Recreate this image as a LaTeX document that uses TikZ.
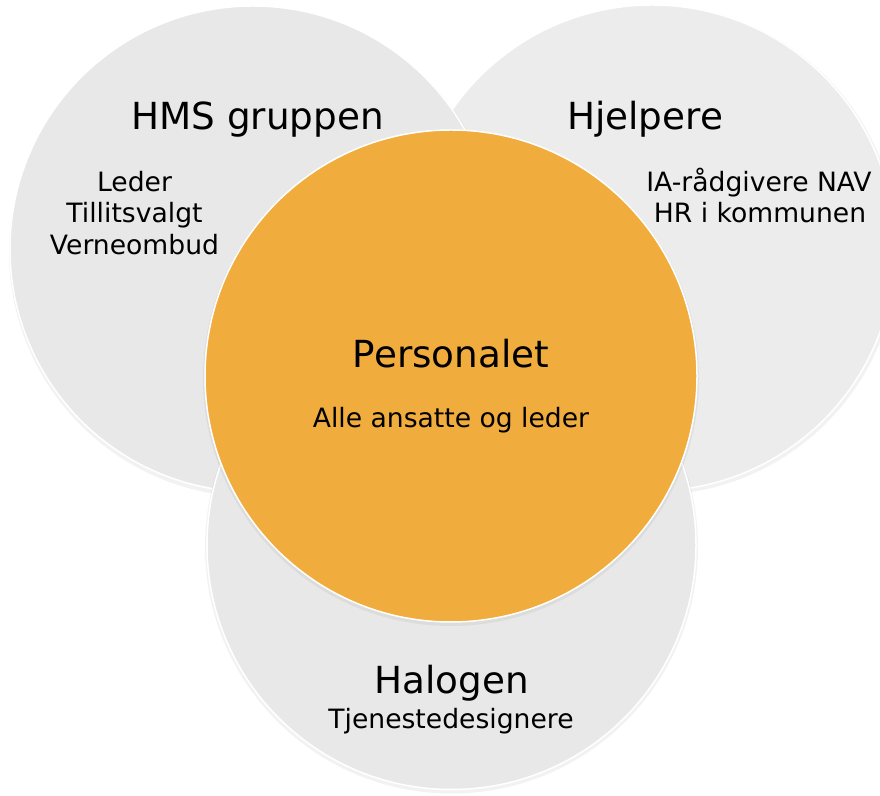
\documentclass[tikz,border=0pt]{standalone}
\usepackage{fontspec}
\setmainfont{DejaVu Sans}
\definecolor{graycirc}{HTML}{E8E8E8}
\definecolor{graycircr}{HTML}{ECECEC}
\definecolor{orangecirc}{HTML}{F0AC3C}
\begin{document}
\begin{tikzpicture}[x=1pt,y=1pt,
  bubble/.style={circle, draw=white, line width=1.5pt, inner sep=0pt, minimum size=#1},
  shade/.style={circle, fill=black, fill opacity=0.05, draw=none, inner sep=0pt, minimum size=#1},
  bigtxt/.style={anchor=base, font=\fontsize{37.3}{40}\selectfont, inner sep=0pt},
  smalltxt/.style={anchor=base, font=\fontsize{26.6}{31.5}\selectfont, inner sep=0pt, align=center}]
\useasboundingbox (0,0) rectangle (880,795);
\clip (0,0) rectangle (880,795);
\fill[white] (0,0) rectangle (880,795);
% right circle
\node[shade=490pt] (rs) at (653,545) {};
\node[bubble=486pt, fill=graycircr] (right) at (652,547) {};
% left circle
\node[shade=490pt] (ls) at (254,543) {};
\node[bubble=486pt, fill=graycirc] (left) at (253,546) {};
% bottom circle
\node[shade=493pt] (bs) at (451.5,248) {};
\node[bubble=489pt, fill=graycirc] (bottom) at (451.5,250) {};
% orange circle
\node[shade=496pt] (os) at (451,417) {};
\node[bubble=492pt, fill=orangecirc] (center) at (451,419) {};
% texts
\node[bigtxt] (hms) at (257.5,665) {HMS gruppen};
\node[smalltxt] (leder) at (134.5,603) {Leder};
\node[smalltxt] (till) at (134.5,572) {Tillitsvalgt};
\node[smalltxt] (verne) at (134.5,540) {Verneombud};
\node[bigtxt] (hjelp) at (645,665) {Hjelpere};
\node[smalltxt] (ia) at (759,603) {IA-rådgivere NAV};
\node[smalltxt] (hr) at (760,572) {HR i kommunen};
\node[bigtxt] (pers) at (451,427) {Personalet};
\node[smalltxt] (alle) at (451,367) {Alle ansatte og leder};
\node[bigtxt] (halo) at (451.5,102) {Halogen};
\node[smalltxt] (tjen) at (451,67) {Tjenestedesignere};
\end{tikzpicture}
\end{document}
